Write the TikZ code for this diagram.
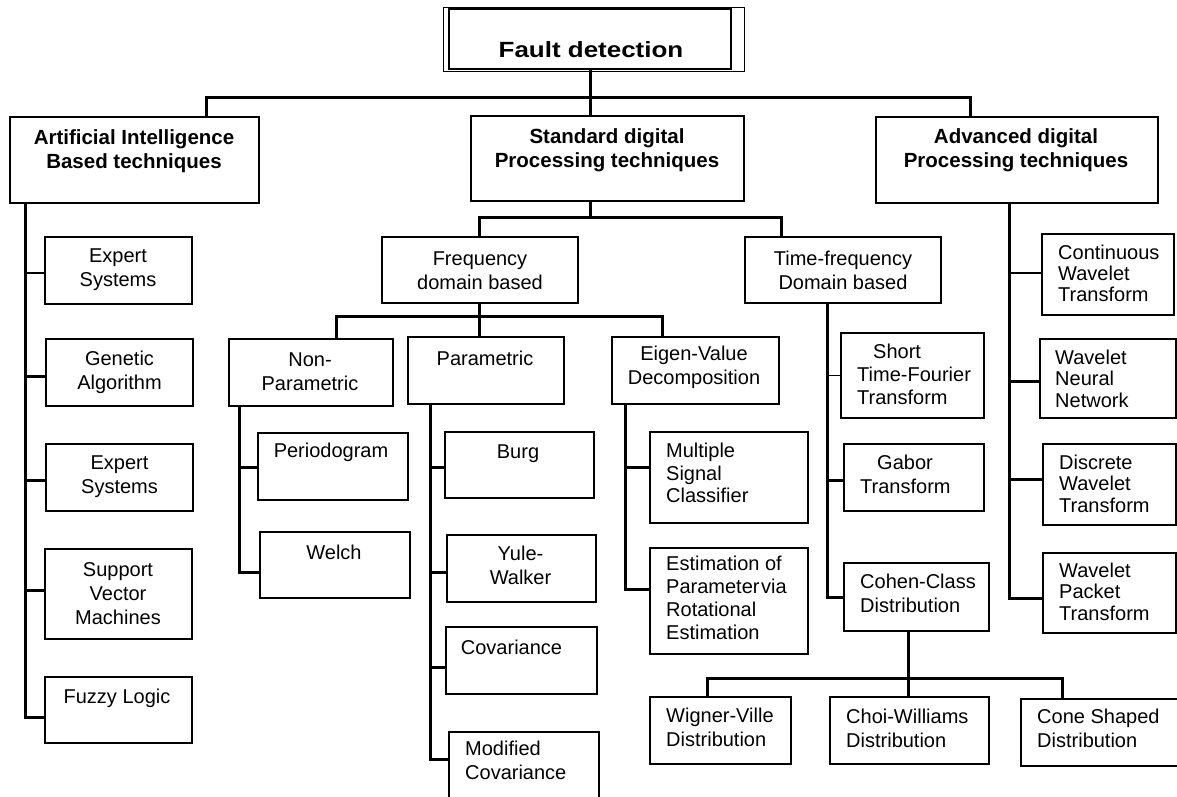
\documentclass[tikz,border=0pt]{standalone}
\usepackage{fontspec}
\setmainfont{Liberation Sans}

% box from its corners: name, x1, y1, x2, y2
\newcommand\mkbox[5]{%
  \node[cellbox, minimum width={#4-#2}, minimum height={#5-#3}] (#1)
    at ({(#2+#4)/2},{(#3+#5)/2}) {};}
% branch from a trunk to the west side of a box: style, trunk, box, offset down
\newcommand\mkbranch[4]{%
  \path (#3.west) ++(0,#4) coordinate (#3-in);
  \draw[#1] (#3-in -| #2) -- (#3-in);}

\begin{document}
\begin{tikzpicture}[x=1pt,y=-1pt,
  cellbox/.style={draw, line width=1.2pt, inner sep=0pt, outer sep=0pt},
  lbl/.style={font=\fontsize{20}{24}\selectfont, inner sep=0pt, align=center},
  lbll/.style={lbl, align=left, anchor=west},
  head/.style={font=\fontsize{20.5}{24.5}\selectfont\bfseries, inner sep=0pt, align=center},
  bus/.style={line width=3pt},
  twig/.style={line width=1.3pt}]
\useasboundingbox (0,0) rectangle (1177,796);
\fill[white] (0,0) rectangle (1177,796);
\clip (0,0) rectangle (1177,796);

% root
\node[draw, line width=1pt, minimum width=301, minimum height=64, inner sep=0pt, outer sep=0pt] (title) at (593.5,39) {};
\node[draw, line width=2.5pt, minimum width=282, minimum height=60, inner sep=0pt, outer sep=0pt] (titlein) at (590,39) {};
\node[font=\fontsize{22}{26}\selectfont\bfseries, inner sep=0pt] (title-t) at (591,50) {\scalebox{1.18}[1]{Fault detection}};

% first level
\mkbox{ai}{10}{117}{259}{203}
\mkbox{sd}{471}{116}{744}{201}
\mkbox{ad}{876}{117}{1158}{203}
\node[head] (ai-t) at (134,151) {Artificial Intelligence\\Based techniques};
\node[head] (sd-t) at (607,150) {Standard digital\\Processing techniques};
\node[head] (ad-t) at (1016,150) {Advanced digital\\Processing techniques};

% artificial intelligence methods
\mkbox{es1}{45}{237}{192}{304}
\mkbox{ga}{46}{339}{193}{406}
\mkbox{es2}{46}{444}{193}{511}
\mkbox{svm}{45}{549}{192}{639}
\mkbox{fz}{45}{677}{192}{743}
\node[lbl] (es1-t) at (118,270) {Expert\\Systems};
\node[lbl] (ga-t) at (119.5,372.5) {Genetic\\Algorithm};
\node[lbl] (es2-t) at (119.5,476.5) {Expert\\Systems};
\node[lbl] (svm-t) at (118,593.5) {Support\\Vector\\Machines};
\node[lbl] (fz-t) at (117,698) {Fuzzy Logic};

% standard digital processing
\mkbox{fd}{382}{237}{578}{303}
\mkbox{tf}{745}{237}{941}{303}
\node[lbl] (fd-t) at (480,270.5) {Frequency\\domain based};
\node[lbl] (tf-t) at (843,270) {Time-frequency\\Domain based};

\mkbox{np}{229}{339}{393}{406}
\mkbox{pm}{408}{337}{564}{404}
\mkbox{ev}{612}{337}{779}{404}
\node[lbl] (np-t) at (310,371.5) {Non-\\Parametric};
\node[lbl] (pm-t) at (485,358) {Parametric};
\node[lbl] (ev-t) at (694,367) {Eigen-Value\\Decomposition};

\mkbox{pd}{258}{433}{408}{500}
\mkbox{we}{260}{532}{410}{598}
\node[lbl] (pd-t) at (331,452.5) {Periodogram};
\node[lbl] (we-t) at (334,552) {Welch};

\mkbox{bu}{445}{432}{594}{498}
\mkbox{yw}{447}{535}{596}{602}
\mkbox{cv}{446}{627}{597}{694}
\mkbox{mc}{449}{732}{599}{810}
\node[lbl] (bu-t) at (518,454) {Burg};
\node[lbl] (yw-t) at (520.5,565) {Yule-\\Walker};
\node[lbl] (cv-t) at (511.5,647) {Covariance};
\node[lbll] (mc-t) at (465,760.5) {Modified\\Covariance};

\mkbox{ms}{650}{432}{808}{523}
\mkbox{er}{650}{548}{808}{654}
\node[lbll, font=\fontsize{20}{22.5}\selectfont] (ms-t) at (666,473) {Multiple\\Signal\\Classifier};
\node[lbll, font=\fontsize{20}{23}\selectfont] (er-t) at (666,597.5) {Estimation of\\Parameter\kern1.5pt via\\Rotational\\Estimation};

\mkbox{st}{841}{333}{984}{418}
\mkbox{gb}{844}{444}{984}{511}
\mkbox{cc}{844}{563}{989}{631}
\node[lbll, font=\fontsize{20}{23}\selectfont] (st-t) at (857,374) {\hspace*{16pt}Short\\Time-Fourier\\Transform};
\node[lbll] (gb-t) at (860,474.5) {\hspace*{17pt}Gabor\\Transform};
\node[lbll] (cc-t) at (860,593.5) {Cohen-Class\\Distribution};

\mkbox{wv}{650}{697}{791}{764}
\mkbox{cw}{830}{697}{989}{764}
\mkbox{cs}{1021}{699}{1200}{766}
\node[lbll] (wv-t) at (666,727.5) {Wigner-Ville\\Distribution};
\node[lbll] (cw-t) at (846,728) {Choi-Williams\\Distribution};
\node[lbll] (cs-t) at (1037,728.5) {Cone Shaped\\Distribution};

% advanced digital processing
\mkbox{cwt}{1042}{234}{1174}{315}
\mkbox{wnn}{1040}{339}{1176}{418}
\mkbox{dwt}{1043}{444}{1176}{525}
\mkbox{wpt}{1043}{553}{1176}{633}
\node[lbll, font=\fontsize{20}{21}\selectfont] (cwt-t) at (1058,273) {Continuous\\Wavelet\\Transform};
\node[lbll, font=\fontsize{20}{21.5}\selectfont] (wnn-t) at (1055,378.5) {Wavelet\\Neural\\Network};
\node[lbll, font=\fontsize{20}{21.5}\selectfont] (dwt-t) at (1059,483.5) {Discrete\\Wavelet\\Transform};
\node[lbll, font=\fontsize{20}{21.5}\selectfont] (wpt-t) at (1059,591.5) {Wavelet\\Packet\\Transform};

% ---- connectors ----
\coordinate (t-l) at (206,97);
\coordinate (t-r) at (970,97);
\draw[bus] (titlein.south) -- (titlein.south |- sd.north);
\draw[bus] (ai.north -| t-l) |- (t-r) -- (t-r |- ad.north);

\coordinate (s-l) at (479,217);
\coordinate (s-r) at (781,217);
\draw[bus] (titlein.south |- sd.south) -- (titlein.south |- s-l);
\draw[bus] (fd.north -| s-l) |- (s-r) -- (s-r |- tf.north);

\coordinate (f-l) at (336,316);
\coordinate (f-r) at (662,316);
\draw[bus] (fd.south -| s-l) -- (s-l |- pm.north);
\draw[bus] (np.north -| f-l) |- (f-r) -- (f-r |- ev.north);

% trunks
\coordinate (a-x) at (25,0);
\coordinate (n-x) at (239,0);
\coordinate (p-x) at (430,0);
\coordinate (e-x) at (625,0);
\coordinate (t-x) at (827,0);
\coordinate (d-x) at (1009,0);

\mkbranch{twig}{a-x}{es1}{2.5}
\mkbranch{bus}{a-x}{ga}{3.5}
\mkbranch{bus}{a-x}{es2}{2.5}
\mkbranch{bus}{a-x}{svm}{-4}
\mkbranch{bus}{a-x}{fz}{7}
\draw[bus] (ai.south -| a-x) |- (fz-in);

\mkbranch{bus}{n-x}{pd}{0.5}
\mkbranch{bus}{n-x}{we}{7}
\draw[bus] (np.south -| n-x) |- (we-in);

\mkbranch{bus}{p-x}{bu}{2}
\mkbranch{bus}{p-x}{yw}{3.5}
\mkbranch{bus}{p-x}{cv}{6.5}
\mkbranch{bus}{p-x}{mc}{-12}
\draw[bus] (pm.south -| p-x) |- (mc-in);

\mkbranch{bus}{e-x}{ms}{-10.5}
\mkbranch{bus}{e-x}{er}{-12}
\draw[bus] (ev.south -| e-x) |- (er-in);

\mkbranch{twig}{t-x}{st}{0}
\mkbranch{bus}{t-x}{gb}{2.5}
\mkbranch{bus}{t-x}{cc}{0}
\draw[bus] (tf.south -| t-x) |- (cc-in);

\mkbranch{twig}{d-x}{cwt}{-1.5}
\mkbranch{bus}{d-x}{wnn}{2.5}
\mkbranch{bus}{d-x}{dwt}{-5.5}
\mkbranch{bus}{d-x}{wpt}{5}
\draw[bus] (ad.south -| d-x) |- (wpt-in);

% Cohen-class family
\coordinate (c-l) at (707,678);
\coordinate (c-m) at (908,678);
\coordinate (c-r) at (1062,678);
\draw[bus] (cc.south -| c-m) -- (c-m |- cw.north);
\draw[bus] (wv.north -| c-l) |- (c-r) -- (c-r |- cs.north);
\end{tikzpicture}
\end{document}
